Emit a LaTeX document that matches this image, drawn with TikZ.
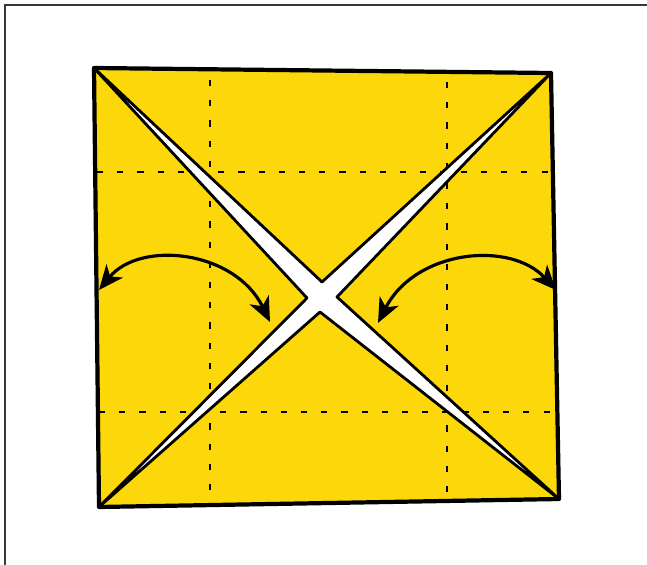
\documentclass[tikz,border=0pt]{standalone}
\usetikzlibrary{arrows.meta}

\definecolor{papier}{RGB}{252,216,10}
\definecolor{cadre}{RGB}{55,55,55}

\tikzset{
  bord/.style={line width=2.4pt,line cap=round,line join=round},
  pli/.style={line width=0.8pt,dash pattern=on 3.5pt off 8pt},
  fleche/.style={line width=1.8pt,{Stealth[length=14pt,width=12pt,inset=4pt]}-{Stealth[length=14pt,width=12pt,inset=4pt]}}
}

\begin{document}
\begin{tikzpicture}[x=0.02cm,y=-0.02cm]

\useasboundingbox
(0,0)
rectangle
(647,565);

% Cadre
\draw[cadre,line width=1.6pt]
(5,565)
--
(5,5)
--
(647,5);

% Coins et sommets
\coordinate (hg) at (94,68);
\coordinate (hd) at (551,73);
\coordinate (bg) at (99,507);
\coordinate (bd) at (559,499);
\coordinate (sg) at (307,298);
\coordinate (sh) at (322,282);
\coordinate (sd) at (337,297);
\coordinate (sb) at (320,312);

% Papier
\fill[papier]
(hg) -- (hd) -- (bd) -- (bg) -- cycle;

% Plis
\draw[pli]
(210,80)
--
(210,500);

\draw[pli]
(447,82)
--
(447,496);

\draw[pli]
(97,172)
--
(553,172);

\draw[pli]
(99,412)
--
(557,412);

% Fente
\fill[white]
(hg) -- (sh) -- (hd) -- (sd) -- (bd) -- (sb) -- (bg) -- (sg) -- cycle;

% Rabats
\draw[bord,line width=1.6pt]
(hg) -- (sg) -- (bg)
(hg) -- (sh) -- (hd)
(hd) -- (sd) -- (bd)
(bg) -- (sb) -- (bd);

\draw[bord]
(hg) -- (hd) -- (bd) -- (bg) -- cycle;

% Fleches
\coordinate (fg1) at (99,290);
\coordinate (fg2) at (270,322);
\coordinate (fd1) at (378,323);
\coordinate (fd2) at (556,290);

\draw[fleche]
(fg1)
.. controls (140,240) and (235,250) ..
(fg2);

\draw[fleche]
(fd1)
.. controls (415,250) and (510,240) ..
(fd2);

\end{tikzpicture}
\end{document}
